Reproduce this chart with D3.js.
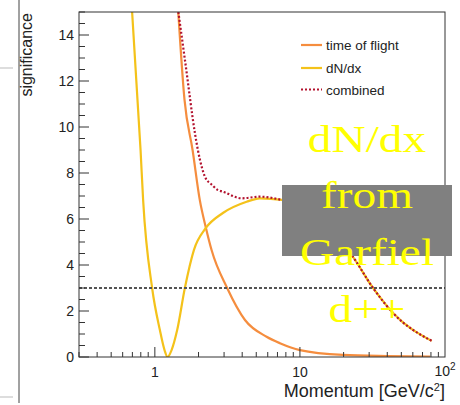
<!DOCTYPE html>
<html>
<head>
<meta charset="utf-8">
<script src="https://cdn.jsdelivr.net/npm/d3@7"></script>
<style>
  body { margin: 0; background: #fff; }
  svg { display: block; font-family: "Liberation Sans", Arial, sans-serif; }
</style>
</head>
<body>
<svg id="chart" width="460" height="405"></svg>
<script>
// momentum [GeV/c^2] and significance
var tofP   = [1.45, 1.60, 1.82, 2.04, 2.25, 2.46, 3.15, 4.18, 5.89, 7.28, 10, 19.8, 40, 79];
var tofSig = [15, 11.2, 9.0, 6.83, 5.61, 4.65, 3.0, 1.61, 0.88, 0.60, 0.30, 0.09, 0.04, 0.02];

var dndxP   = [0.697, 0.797, 0.830, 0.958, 1.083, 1.166, 1.223, 1.304, 1.425, 1.61, 1.858, 2.248, 2.944, 4.29, 5.30, 7.48, 10, 14, 18, 22.7, 32.0, 44.0, 81.0];
var dndxSig = [15, 9.0, 6.83, 2.99, 1.17, 0.30, 0, 0.30, 1.17, 3.0, 4.65, 5.61, 6.26, 6.75, 6.90, 6.83, 6.60, 5.95, 5.15, 4.43, 2.99, 1.90, 0.70];

var combP   = [1.452, 1.636, 1.888, 1.98, 2.273, 2.394, 2.72, 2.944, 3.96, 5.30, 7.48, 10, 14, 18, 22.7, 32.0, 44.0, 81.0];
var combSig = [15, 12.62, 9.74, 9.0, 7.70, 7.57, 7.26, 7.19, 6.90, 6.97, 6.83, 6.61, 5.95, 5.15, 4.43, 2.99, 1.90, 0.70];

var threshold = 3;
var legendNames = ['time of flight', 'dN/dx', 'combined'];
var noteLines = ['dN/dx', 'from', 'Garfiel', 'd++'];

var colors = { tof: '#f58d3e', dndx: '#f4c21a', comb: '#b3122e' };

var svg = d3.select('#chart');
var box = { left: 79, right: 445, top: 12, bottom: 357 };

var x = d3.scaleLog().domain([0.3, 100]).range([box.left, box.right]);
var y = d3.scaleLinear().domain([0, 15]).range([box.bottom, box.top]);

// slide leftovers on the left
svg.append('line').attr('x1', 19).attr('x2', 19).attr('y1', 0).attr('y2', 403)
  .attr('stroke', '#444').attr('stroke-width', 1);
[68, 397].forEach(function(yy){
  svg.append('line').attr('x1', 0).attr('x2', 13).attr('y1', yy).attr('y2', yy)
    .attr('stroke', '#bbb').attr('stroke-width', 1);
});

svg.append('clipPath').attr('id', 'plot-clip').append('rect')
  .attr('x', box.left).attr('y', box.top)
  .attr('width', box.right - box.left).attr('height', box.bottom - box.top);

var line = d3.line()
  .x(function(d){ return x(d[0]); })
  .y(function(d){ return y(d[1]); })
  .curve(d3.curveMonotoneX);

function zip(a, b){ return a.map(function(v, i){ return [v, b[i]]; }); }

var g = svg.append('g').attr('clip-path', 'url(#plot-clip)');

g.append('path').attr('d', line(zip(tofP, tofSig)))
  .attr('fill', 'none').attr('stroke', colors.tof).attr('stroke-width', 2.2);
g.append('path').attr('d', line(zip(dndxP, dndxSig)))
  .attr('fill', 'none').attr('stroke', colors.dndx).attr('stroke-width', 2.2);
g.append('path').attr('d', line(zip(combP, combSig)))
  .attr('fill', 'none').attr('stroke', colors.comb).attr('stroke-width', 2.2)
  .attr('stroke-dasharray', '2,2');

// 3 sigma line
svg.append('line')
  .attr('x1', box.left).attr('x2', box.right)
  .attr('y1', y(threshold)).attr('y2', y(threshold))
  .attr('stroke', '#555').attr('stroke-width', 2).attr('stroke-dasharray', '3,2');

// frame
svg.append('rect')
  .attr('x', box.left).attr('y', box.top)
  .attr('width', box.right - box.left).attr('height', box.bottom - box.top)
  .attr('fill', 'none').attr('stroke', '#333').attr('stroke-width', 1);

// y ticks, major every 2, minor every 0.5
var yTicks = d3.range(0, 15.01, 0.5);
svg.append('g').selectAll('line').data(yTicks).enter().append('line')
  .attr('x1', box.left)
  .attr('x2', function(d){ return box.left + (d % 2 === 0 ? 10 : 6); })
  .attr('y1', function(d){ return y(d); }).attr('y2', function(d){ return y(d); })
  .attr('stroke', '#333');
svg.append('g').selectAll('text').data(d3.range(0, 15, 2)).enter().append('text')
  .attr('x', 74).attr('y', function(d){ return y(d) + 5; })
  .attr('text-anchor', 'end').attr('font-size', 14).attr('fill', '#222')
  .text(function(d){ return d; });

// x ticks on log scale
var xTicks = [];
[0.1, 1, 10].forEach(function(dec){
  d3.range(1, 10).forEach(function(k){
    var v = k * dec;
    if (v > 0.3 && v < 100) xTicks.push(v);
  });
});
svg.append('g').selectAll('line').data(xTicks).enter().append('line')
  .attr('x1', function(d){ return x(d); }).attr('x2', function(d){ return x(d); })
  .attr('y1', box.bottom)
  .attr('y2', function(d){ return box.bottom - (d === 1 || d === 10 ? 10 : 5); })
  .attr('stroke', '#333');
svg.append('text').attr('x', x(1)).attr('y', 377).attr('text-anchor', 'middle')
  .attr('font-size', 14).attr('fill', '#222').text('1');
svg.append('text').attr('x', x(10)).attr('y', 377).attr('text-anchor', 'middle')
  .attr('font-size', 14).attr('fill', '#222').text('10');
var t100 = svg.append('text').attr('x', x(100)).attr('y', 376).attr('text-anchor', 'middle')
  .attr('font-size', 14).attr('fill', '#222');
t100.append('tspan').text('10');
t100.append('tspan').attr('dy', -6).attr('font-size', 10).text('2');

// axis titles
var xt = svg.append('text').attr('x', box.right).attr('y', 397).attr('text-anchor', 'end')
  .attr('font-size', 18).attr('fill', '#222');
xt.append('tspan').text('Momentum [GeV/c');
xt.append('tspan').attr('dy', -6).attr('font-size', 11).text('2');
xt.append('tspan').attr('dy', 6).text(']');

svg.append('text').attr('transform', 'translate(32,13) rotate(-90)')
  .attr('text-anchor', 'end').attr('font-size', 16).attr('fill', '#222')
  .text('significance');

// legend
var legendStyle = [
  { color: colors.tof, dash: null },
  { color: colors.dndx, dash: null },
  { color: colors.comb, dash: '2,2' }
];
var legendY = [45, 68, 89.5];
legendNames.forEach(function(name, i){
  svg.append('line').attr('x1', 301).attr('x2', 322)
    .attr('y1', legendY[i]).attr('y2', legendY[i])
    .attr('stroke', legendStyle[i].color).attr('stroke-width', 2.2)
    .attr('stroke-dasharray', legendStyle[i].dash);
  svg.append('text').attr('x', 326).attr('y', legendY[i] + 5)
    .attr('font-size', 13.5).attr('fill', '#222').text(name);
});

// pasted note: grey box + stretched yellow serif text
svg.append('rect').attr('x', 282).attr('y', 185).attr('width', 170).attr('height', 71)
  .attr('fill', '#808080');
var noteBase = [151.7, 208.3, 265, 321.7];
noteLines.forEach(function(s, i){
  svg.append('text')
    .attr('transform', 'translate(367,' + noteBase[i] + ') scale(1.28,1)')
    .attr('text-anchor', 'middle')
    .attr('font-family', '"Liberation Serif", "Times New Roman", serif')
    .attr('font-size', 37).attr('fill', '#ffff00').text(s);
});
</script>
</body>
</html>
